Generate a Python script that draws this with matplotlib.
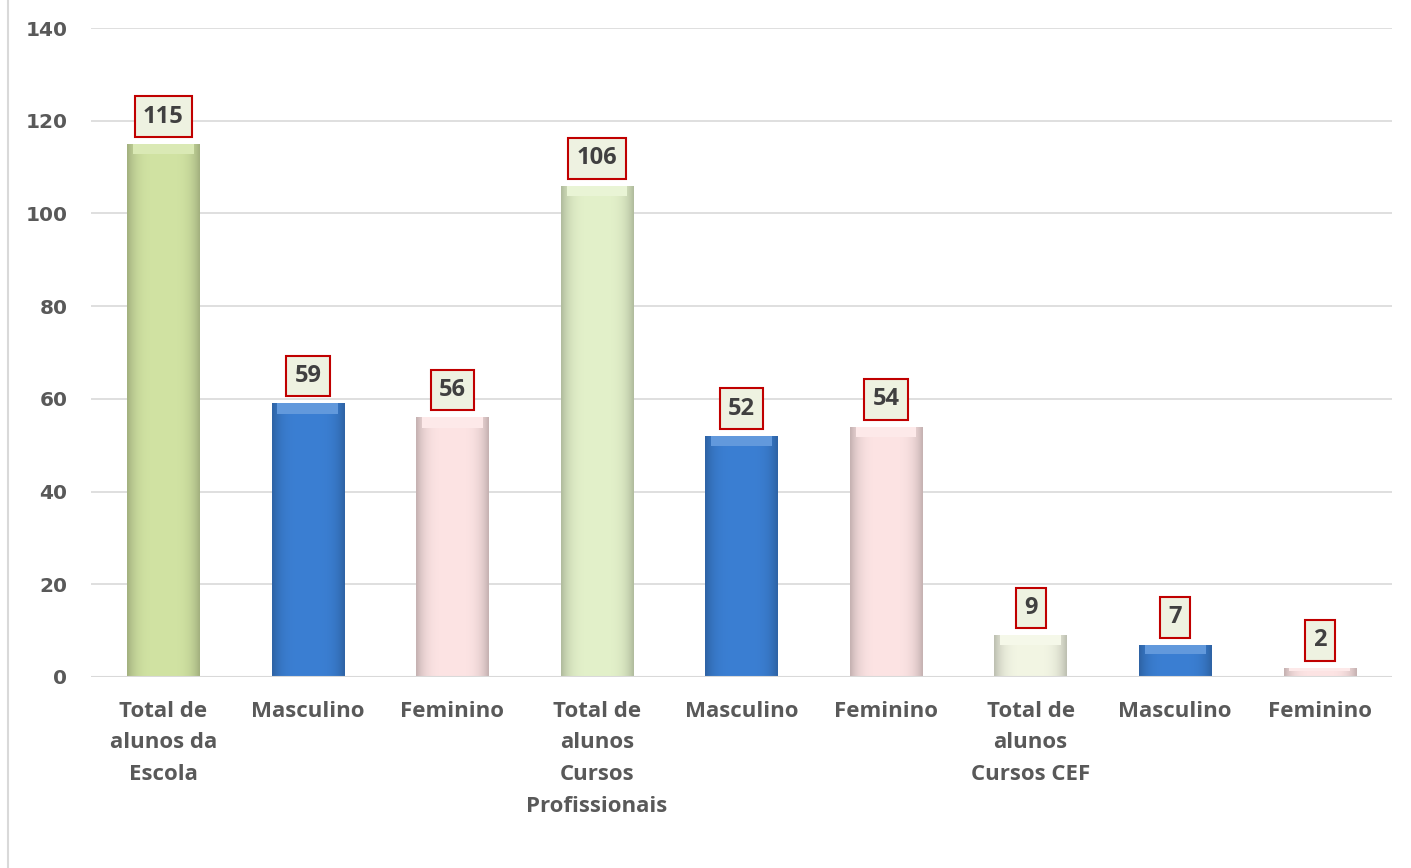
import matplotlib
matplotlib.use("Agg")
import matplotlib.pyplot as plt
import numpy as np
from matplotlib.colors import to_rgb

categories = ["Total de\nalunos da\nEscola", "Masculino", "Feminino",
              "Total de\nalunos\nCursos\nProfissionais", "Masculino", "Feminino",
              "Total de\nalunos\nCursos CEF", "Masculino", "Feminino"]
values = [115, 59, 56, 106, 52, 54, 9, 7, 2]
colors = ["#D1E3A3", "#3B7FD3", "#FDE4E4", "#E3F1CA", "#3B7FD3", "#FDE4E4",
          "#F3F6E4", "#3B7FD3", "#FDE4E4"]
yticks = [0, 20, 40, 60, 80, 100, 120, 140]

LABEL_FONT = "Open Sans"

fig = plt.figure(figsize=(14.11, 8.68), dpi=100)
ax = fig.add_axes([91/1411, 1-677/868, (1392-91)/1411, (677-28)/868])

x = np.arange(len(values))
bars = ax.bar(x, values, width=0.5, color=colors, zorder=3,
              edgecolor="none")

# bevel-like shading: horizontal gradient clipped to each bar
for b, c in zip(bars, colors):
    rgb = np.array(to_rgb(c))
    t = np.linspace(0, 1, 64)
    prof = 1 - 0.22 * (np.abs(t - 0.5) * 2) ** 4
    img = np.clip(rgb[None, :] * prof[:, None], 0, 1)[None, :, :]
    x0, y0 = b.get_x(), b.get_y()
    w, h = b.get_width(), b.get_height()
    im = ax.imshow(img, extent=[x0, x0 + w, y0, y0 + h], aspect="auto",
                   zorder=3.5, interpolation="bicubic")
    im.set_clip_path(b)
    # light top band
    top = min(2.2, h * 0.3)
    ax.fill_between([x0 + w*0.08, x0 + w*0.92], y0 + h - top, y0 + h,
                    color=np.clip(rgb * 0.8 + 0.2, 0, 1), zorder=3.6, lw=0)

for xi, v in zip(x, values):
    ax.annotate(str(v), (xi, v), xytext=(0, 11), textcoords="offset points",
                ha="center", va="bottom", fontsize=17, fontweight="bold",
                color="#404040", family=LABEL_FONT, zorder=5,
                bbox=dict(boxstyle="square,pad=0.35", fc="#EEF2E1",
                          ec="#C00000", lw=1.5))

ax.set_xlim(-0.5, len(values) - 0.5)
ax.set_ylim(0, 140)
ax.set_yticks(yticks)
ax.set_yticklabels([str(t) for t in yticks], fontsize=14.5, fontweight="bold",
                   color="#595959", family="DejaVu Sans")
ax.set_xticks(x)
ax.set_xticklabels(categories, fontsize=16, fontweight="bold",
                   color="#595959", family=LABEL_FONT, linespacing=1.68, va="top")
ax.tick_params(axis="both", length=0)
ax.tick_params(axis="y", pad=17)
ax.tick_params(axis="x", pad=17)
ax.grid(axis="y", color="#D9D9D9", lw=1.2, zorder=0)
for s in ax.spines.values():
    s.set_visible(False)
ax.axhline(0, color="#D9D9D9", lw=1.5, zorder=4)

fig.add_artist(plt.Line2D([8/1411, 8/1411], [0, 1], color="#D9D9D9", lw=1.5))

fig.savefig("out.png", dpi=100)
